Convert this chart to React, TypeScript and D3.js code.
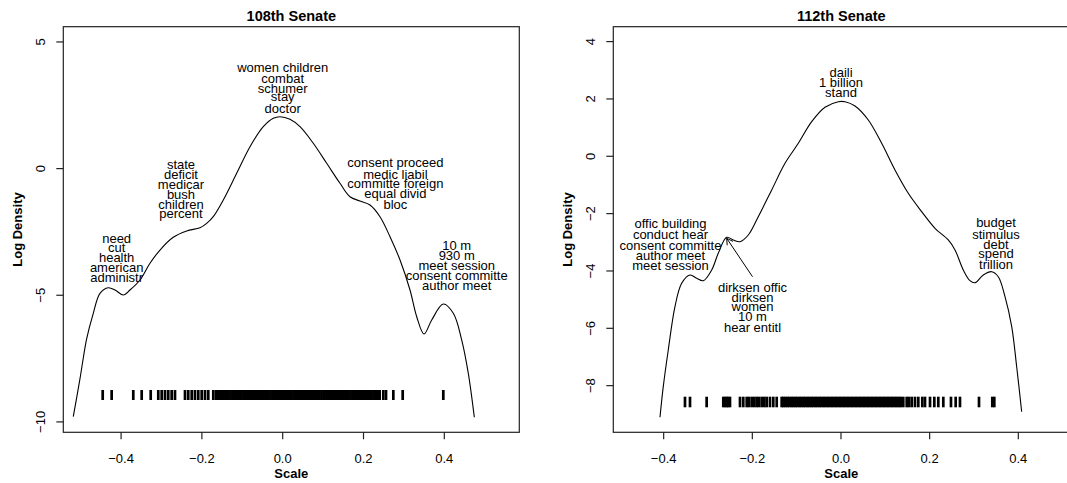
import React, { useEffect } from "react";
import * as d3 from "d3";

const FONT = "'Liberation Sans', Arial, Helvetica, sans-serif";

// ---------- 108th Senate ----------
const s108X = [-0.5183, -0.5017, -0.4851, -0.4688, -0.4522, -0.4317, -0.4151, -0.3946, -0.378, -0.3532, -0.3285, -0.3037, -0.2708, -0.2376, -0.2047, -0.1881, -0.1718, -0.147, -0.1139, -0.0809, -0.048, -0.0233, -0.0067, 0.0181, 0.0428, 0.0757, 0.1089, 0.1418, 0.1666, 0.1913, 0.2161, 0.2408, 0.2656, 0.2904, 0.3151, 0.3317, 0.3498, 0.3688, 0.3975, 0.4223, 0.4431, 0.4594, 0.4743];
const s108Y = [-9.795, -8.293, -6.714, -5.713, -4.923, -4.702, -4.793, -4.99, -4.793, -4.398, -3.739, -3.214, -2.712, -2.463, -2.333, -2.16, -1.899, -1.24, -0.186, 0.865, 1.654, 1.986, 2.049, 1.946, 1.654, 0.999, 0.209, -0.58, -1.109, -1.279, -1.437, -1.899, -2.688, -3.608, -4.793, -5.847, -6.53, -5.977, -5.345, -5.713, -6.767, -8.081, -9.818];
const s108Rug = [
  -0.4455, -0.4233, -0.3698, -0.349, -0.3267, -0.3079, -0.2995, -0.2913, -0.2832, -0.2748, -0.2666,
  -0.2418, -0.2337, -0.2252, -0.2171, -0.2089, -0.2005, -0.1923, -0.1842, -0.1718,
  -0.165, -0.161, -0.156, -0.152, -0.147, -0.142, -0.138, -0.134, -0.129, -0.124, -0.12, -0.116,
  -0.111, -0.106, -0.102, -0.097, -0.093, -0.089, -0.084, -0.079, -0.075, -0.071, -0.066, -0.061,
  -0.057, -0.053, -0.048, -0.043, -0.039, -0.035, -0.03, -0.025, -0.021, -0.017, -0.012, -0.007,
  -0.003, 0.001, 0.006, 0.011, 0.015, 0.019, 0.024, 0.029, 0.033, 0.037, 0.042, 0.047, 0.051,
  0.055, 0.06, 0.065, 0.069, 0.073, 0.078, 0.083, 0.087, 0.091, 0.096, 0.101, 0.105, 0.109,
  0.114, 0.119, 0.123, 0.127, 0.132, 0.137, 0.141, 0.145, 0.15, 0.155, 0.159, 0.163, 0.168,
  0.173, 0.177, 0.181, 0.186, 0.191, 0.195, 0.199, 0.204, 0.209, 0.213, 0.217, 0.222, 0.227,
  0.231, 0.235, 0.24, 0.249, 0.2557, 0.2738, 0.297, 0.3975,
];
const s108YTicks = [-10, -5, 0, 5];
const s108Labels = [
  { x: -0.411, ys: [-2.74, -3.123, -3.502, -3.912, -4.307], words: ["need", "cut", "health", "american", "administr"] },
  { x: -0.2517, ys: [0.182, -0.213, -0.608, -1.003, -1.398, -1.753], words: ["state", "deficit", "medicar", "bush", "children", "percent"] },
  { x: 0.0, ys: [3.983, 3.577, 3.182, 2.839, 2.392], words: ["women children", "combat", "schumer", "stay", "doctor"] },
  { x: 0.279, ys: [0.233, -0.213, -0.58, -0.975, -1.398], words: ["consent proceed", "medic liabil", "committe foreign", "equal divid", "bloc"] },
  { x: 0.4307, ys: [-3.016, -3.411, -3.833, -4.228, -4.623], words: ["10 m", "930 m", "meet session", "consent committe", "author meet"] },
];

// ---------- 112th Senate ----------
const s112X = [-0.4083, -0.4009, -0.3896, -0.3745, -0.3594, -0.3406, -0.3255, -0.3106, -0.2917, -0.2768, -0.2578, -0.2429, -0.2278, -0.2091, -0.1866, -0.1563, -0.1263, -0.0963, -0.0661, -0.0361, -0.0061, 0.009, 0.0316, 0.0616, 0.0918, 0.1218, 0.1518, 0.182, 0.212, 0.242, 0.2572, 0.2759, 0.291, 0.3023, 0.321, 0.34, 0.3548, 0.37, 0.3851, 0.3963, 0.4076];
const s112Y = [-9.104, -8.036, -6.756, -5.246, -4.43, -4.14, -4.255, -4.339, -3.966, -3.383, -2.825, -2.919, -2.979, -2.745, -2.107, -1.175, -0.244, 0.453, 1.207, 1.709, 1.904, 1.904, 1.754, 1.266, 0.453, -0.478, -1.291, -1.932, -2.511, -2.919, -3.268, -3.966, -4.339, -4.409, -4.14, -4.025, -4.2, -4.897, -5.943, -7.339, -8.908];
const s112Rug = [
  -0.3519, -0.3406, -0.303, -0.2655, -0.2617, -0.2578, -0.2542, -0.2504, -0.2278, -0.2204, -0.2127,
  -0.2075, -0.2014, -0.1956, -0.1902, -0.185, -0.1789, -0.173, -0.1676, -0.1602, -0.1527, -0.145, -0.1338,
  -0.13, -0.126, -0.121, -0.117, -0.112, -0.108, -0.103, -0.099, -0.094, -0.09, -0.085, -0.081,
  -0.076, -0.072, -0.067, -0.063, -0.058, -0.054, -0.049, -0.045, -0.04, -0.036, -0.031, -0.027,
  -0.022, -0.018, -0.013, -0.009, -0.004, 0.0, 0.005, 0.009, 0.014, 0.018, 0.023, 0.027, 0.032,
  0.036, 0.041, 0.045, 0.05, 0.054, 0.059, 0.063, 0.068, 0.072, 0.077, 0.081, 0.086, 0.09, 0.095,
  0.099, 0.104, 0.108, 0.113, 0.117, 0.122, 0.126, 0.131, 0.135,
  0.1405, 0.1482, 0.1534, 0.1595, 0.1669, 0.1744, 0.1834, 0.1895, 0.2008, 0.2105, 0.2195, 0.2308,
  0.2481, 0.2587, 0.2684, 0.3113, 0.3413, 0.3458,
];
const s112YTicks = [-8, -6, -4, -2, 0, 2, 4];
const s112Labels = [
  { x: 0.0, ys: [2.916, 2.567, 2.218], words: ["daili", "1 billion", "stand"] },
  { x: -0.3846, ys: [-2.337, -2.721, -3.094, -3.443, -3.791], words: ["offic building", "conduct hear", "consent committe", "author meet", "meet session"] },
  { x: -0.1996, ys: [-4.583, -4.932, -5.246, -5.595, -5.964], words: ["dirksen offic", "dirksen", "women", "10 m", "hear entitl"] },
  { x: 0.3497, ys: [-2.316, -2.721, -3.069, -3.383, -3.767], words: ["budget", "stimulus", "debt", "spend", "trillion"] },
];
const s112Arrow = { x0: -0.1996, y0: -4.2, x1: -0.2578, y1: -2.86 };

const xTicks = [-0.4, -0.2, 0, 0.2, 0.4];
const fmtX = (v: number) => (v < 0 ? "\u2212" : "") + Math.abs(v).toFixed(1);
const fmtY = (v: number) => (v < 0 ? "\u2212" : "") + Math.abs(v).toString();

type PanelProps = {
  title: string;
  left: number;
  right: number;
  top: number;
  bottom: number;
  xDomain: [number, number];
  yDomain: [number, number];
  xs: number[];
  ys: number[];
  rug: number[];
  rugY: [number, number];
  yTicks: number[];
  labels: { x: number; ys: number[]; words: string[] }[];
  arrow?: { x0: number; y0: number; x1: number; y1: number };
};

function Panel(p: PanelProps) {
  const x = d3.scaleLinear().domain(p.xDomain).range([p.left, p.right]);
  const y = d3.scaleLinear().domain(p.yDomain).range([p.bottom, p.top]);
  const pts: [number, number][] = p.xs.map((v, i) => [v, p.ys[i]]);
  const line = d3
    .line<[number, number]>()
    .x((d) => x(d[0]))
    .y((d) => y(d[1]))
    .curve(d3.curveCatmullRom.alpha(0.5));
  const cx = (p.left + p.right) / 2;
  const cy = (p.top + p.bottom) / 2;
  const tick = 7;
  let arrowEl = null;
  if (p.arrow) {
    const ax0 = x(p.arrow.x0), ay0 = y(p.arrow.y0), ax1 = x(p.arrow.x1), ay1 = y(p.arrow.y1);
    const ang = Math.atan2(ay1 - ay0, ax1 - ax0);
    const L = 7, a = Math.PI / 6;
    const h1 = [ax1 - L * Math.cos(ang - a), ay1 - L * Math.sin(ang - a)];
    const h2 = [ax1 - L * Math.cos(ang + a), ay1 - L * Math.sin(ang + a)];
    arrowEl = (
      <g stroke="#000" strokeWidth={1} fill="none">
        <line x1={ax0} y1={ay0} x2={ax1} y2={ay1} />
        <polyline points={`${h1[0]},${h1[1]} ${ax1},${ay1} ${h2[0]},${h2[1]}`} />
      </g>
    );
  }
  return (
    <g fontFamily={FONT}>
      <text x={cx} y={20.5} textAnchor="middle" fontSize={14.5} fontWeight="bold">
        {p.title}
      </text>
      {/* rug */}
      <g stroke="#000" strokeWidth={2.7}>
        {p.rug.map((v, i) => (
          <line key={i} x1={x(v)} x2={x(v)} y1={y(p.rugY[0])} y2={y(p.rugY[1])} />
        ))}
      </g>
      <path d={line(pts) || ""} fill="none" stroke="#000" strokeWidth={1.1} />
      {p.labels.map((g, gi) => (
        <g key={gi}>
          {g.words.map((w, wi) => (
            <text key={wi} x={x(g.x)} y={y(g.ys[wi]) + 4.6} textAnchor="middle" fontSize={13}>
              {w}
            </text>
          ))}
        </g>
      ))}
      {arrowEl}
      <rect x={p.left} y={p.top} width={p.right - p.left} height={p.bottom - p.top} fill="none" stroke="#222" strokeWidth={1.2} />
      <g stroke="#222" strokeWidth={1.2}>
        {xTicks.map((t) => (
          <line key={t} x1={x(t)} x2={x(t)} y1={p.bottom} y2={p.bottom + tick} />
        ))}
        {p.yTicks.map((t) => (
          <line key={t} x1={p.left - tick} x2={p.left} y1={y(t)} y2={y(t)} />
        ))}
      </g>
      {xTicks.map((t) => (
        <text key={t} x={x(t)} y={462.8} textAnchor="middle" fontSize={13}>
          {fmtX(t)}
        </text>
      ))}
      {p.yTicks.map((t) => (
        <text key={t} transform={`translate(${p.left - 18},${y(t)}) rotate(-90)`} textAnchor="middle" fontSize={13}>
          {fmtY(t)}
        </text>
      ))}
      <text x={cx} y={478} textAnchor="middle" fontSize={13} fontWeight="bold">
        Scale
      </text>
      <text transform={`translate(${p.left - 41},${cy}) rotate(-90)`} textAnchor="middle" fontSize={13} fontWeight="bold">
        Log Density
      </text>
    </g>
  );
}

export default function App() {
  useEffect(() => {
    document.body.style.margin = "0";
  }, []);
  return (
    <svg width={1067} height={483} style={{ position: "absolute", left: 0, top: 0, background: "#fff" }}>
      <rect x={0} y={0} width={1067} height={483} fill="#fff" />
      <Panel
        title="108th Senate"
        left={63.3}
        right={519.3}
        top={26.7}
        bottom={432.3}
        xDomain={[-0.543, 0.5856]}
        yDomain={[-10.41, 5.602]}
        xs={s108X}
        ys={s108Y}
        rug={s108Rug}
        rugY={[-8.741, -9.135]}
        yTicks={s108YTicks}
        labels={s108Labels}
      />
      <Panel
        title="112th Senate"
        left={613.3}
        right={1069.3}
        top={26.7}
        bottom={432.3}
        xDomain={[-0.5136, 0.515]}
        yDomain={[-9.627, 4.52]}
        xs={s112X}
        ys={s112Y}
        rug={s112Rug}
        rugY={[-8.385, -8.755]}
        yTicks={s112YTicks}
        labels={s112Labels}
        arrow={s112Arrow}
      />
    </svg>
  );
}
